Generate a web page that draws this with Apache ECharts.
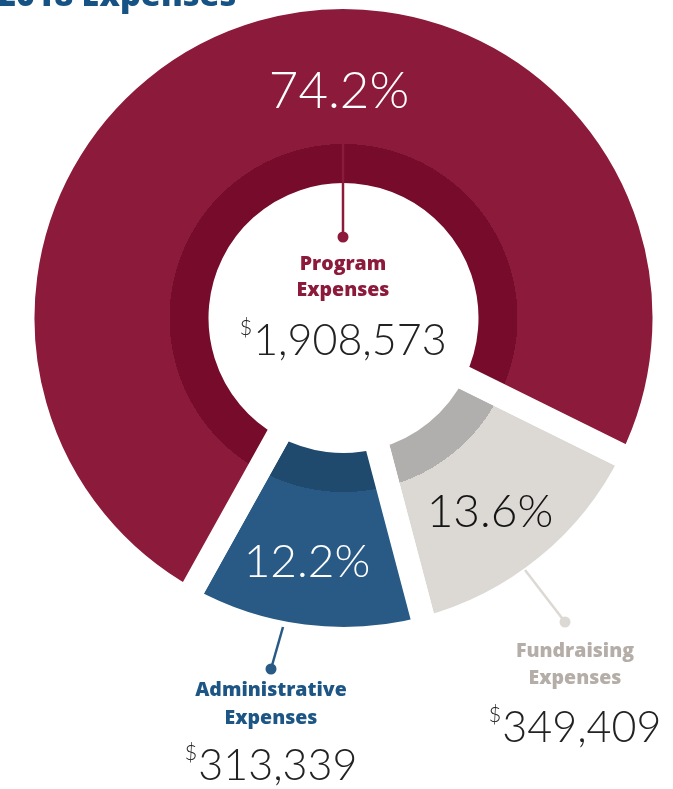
<!DOCTYPE html>
<html>
<head>
<meta charset="utf-8">
<script src="https://cdn.jsdelivr.net/npm/echarts@6/dist/echarts.min.js"></script>
<style>
html,body{margin:0;padding:0;background:#fff;}
#chart{width:673px;height:789px;}
</style>
</head>
<body>
<div id="chart"></div>
<script>
// ---- data ----
const titleText = '2018 Expenses';
const categories = ['Fundraising Expenses', 'Administrative Expenses', 'Program Expenses'];
const nameLines = [['Fundraising', 'Expenses'], ['Administrative', 'Expenses'], ['Program', 'Expenses']];
const values = [349409, 313339, 1908573];
const mainColors = ['#dcd9d4', '#285a85', '#8c1a3a'];
const bandColors = ['#b0afad', '#1f496d', '#760b2b'];
const nameColors = ['#b5ada7', '#1d5685', '#8c1a3a'];
const pctColors = ['#141414', '#ffffff', '#ffffff'];
const lineColors = ['#dcd9d4', '#285a85', '#8c1a3a'];

// ---- layout ----
const CX = 343.5, CY = 318;
const GAP = 24;
const R_IN = 135, R_BAND = 174, R_OUT = 309;
const START = -26.3;
const annot = [
  { pct: [490, 512, 46], line: [[525, 570], [565, 622]], names: [575, 651, 678], value: [575, 727] },
  { pct: [307, 562, 46], line: [[283, 627], [271, 669]], names: [271, 690, 718], value: [271, 765] },
  { pct: [339, 92, 51], line: [[343, 144], [343, 237]], names: [343, 264, 290], value: [343, 340] }
];

const total = values.reduce((a, b) => a + b, 0);
const rOuter = R_OUT + GAP / 2, rInner = R_IN - GAP / 2;

function grad(i) {
  const k = R_BAND / rOuter;
  return {
    type: 'radial', x: CX, y: CY, r: rOuter, global: true,
    colorStops: [
      { offset: 0, color: bandColors[i] },
      { offset: k, color: bandColors[i] },
      { offset: k, color: mainColors[i] },
      { offset: 1, color: mainColors[i] }
    ]
  };
}

const thin = '"Lato", "Roboto", sans-serif';
const bold = '"Open Sans", "Noto Sans", sans-serif';

const graphics = [];
graphics.push({
  type: 'text', x: -3, y: -3, z: 100,
  style: { text: titleText, fill: '#165384', fontFamily: bold, fontWeight: 800, fontSize: 32.5, align: 'left', verticalAlign: 'middle' }
});
values.forEach((v, i) => {
  const a = annot[i];
  const pct = (v / total * 100).toFixed(1) + '%';
  graphics.push({
    type: 'text', x: a.pct[0], y: a.pct[1], z: 100,
    style: { text: pct, fill: pctColors[i], fontFamily: thin, fontWeight: 300, fontSize: a.pct[2], align: 'center', verticalAlign: 'middle' }
  });
  graphics.push({
    type: 'line', z: 100,
    shape: { x1: a.line[0][0], y1: a.line[0][1], x2: a.line[1][0], y2: a.line[1][1] },
    style: { stroke: lineColors[i], lineWidth: 2.5 }
  });
  graphics.push({
    type: 'circle', z: 100,
    shape: { cx: a.line[1][0], cy: a.line[1][1], r: 5.5 },
    style: { fill: lineColors[i] }
  });
  nameLines[i].forEach((t, j) => {
    graphics.push({
      type: 'text', x: a.names[0], y: a.names[1 + j], z: 100,
      style: { text: t, fill: nameColors[i], fontFamily: bold, fontWeight: 800, fontSize: 19.5, align: 'center', verticalAlign: 'middle' }
    });
  });
  graphics.push({
    type: 'text', x: a.value[0], y: a.value[1], z: 100,
    style: {
      text: '{s|$}{n|' + v.toLocaleString('en-US') + '}',
      align: 'center', verticalAlign: 'middle',
      rich: {
        s: { fontFamily: thin, fontWeight: 300, fontSize: 22, fill: '#222', verticalAlign: 'top', lineHeight: 30, padding: [0, 1, 0, 0] },
        n: { fontFamily: thin, fontWeight: 300, fontSize: 43, fill: '#222', verticalAlign: 'bottom', lineHeight: 46 }
      }
    }
  });
});

const chart = echarts.init(document.getElementById('chart'), null, { renderer: 'canvas' });
chart.setOption({
  animation: false,
  backgroundColor: '#ffffff',
  series: [{
    type: 'pie',
    center: [CX, CY],
    radius: [rInner, rOuter],
    startAngle: START,
    clockwise: true,
    silent: true,
    avoidLabelOverlap: false,
    label: { show: false },
    labelLine: { show: false },
    emphasis: { disabled: true },
    data: values.map((v, i) => ({
      value: v,
      name: categories[i],
      itemStyle: { color: grad(i), borderColor: '#ffffff', borderWidth: GAP }
    }))
  }],
  graphic: graphics
});
</script>
</body>
</html>
